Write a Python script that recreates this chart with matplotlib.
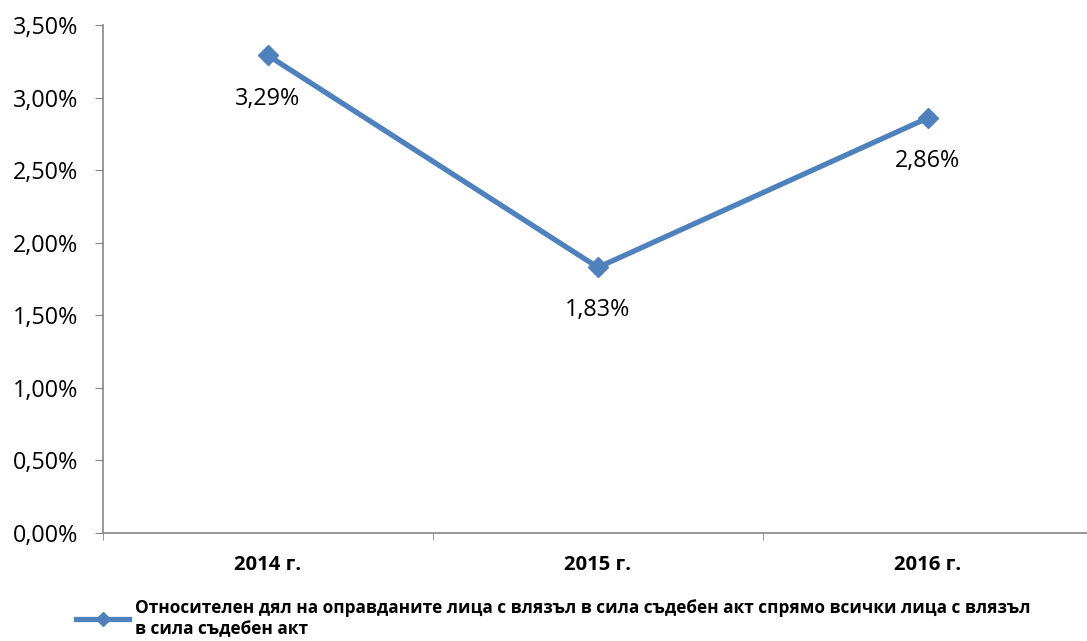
import matplotlib.pyplot as plt
from matplotlib.ticker import FuncFormatter
from matplotlib.lines import Line2D

plt.rcParams['font.family'] = ['Open Sans', 'DejaVu Sans']

years = ['2014 г.', '2015 г.', '2016 г.']
share = [3.29, 1.83, 2.86]
series_name = ('Относителен дял на оправданите лица с влязъл в сила съдебен акт спрямо всички лица с влязъл\n'
               'в сила съдебен акт')

blue = '#4F81BD'
grey = '#868686'

fig = plt.figure(figsize=(10.87, 6.41), dpi=100)
ax = fig.add_axes([103 / 1087, 1 - 533 / 641, (1087 - 103) / 1087, (533 - 25) / 641])

x = list(range(len(years)))
ax.plot(x, share, color=blue, lw=3.8, marker='D', markersize=10, zorder=3, clip_on=False)

for xi, v in zip(x, share):
    ax.annotate(f'{v:.2f}%'.replace('.', ','), (xi, v), xytext=(0, -31),
                textcoords='offset points', ha='center', va='center', fontsize=16.8)

ax.set_xlim(-0.5, 2.482)
ax.set_ylim(0, 3.5)
ax.set_yticks([0, 0.5, 1, 1.5, 2, 2.5, 3, 3.5])
ax.yaxis.set_major_formatter(FuncFormatter(lambda v, p: f'{v:.2f}%'.replace('.', ',')))
ax.set_xticks(x)
ax.set_xticklabels(years, fontweight='bold', fontsize=14.6)
ax.set_xticks([-0.5, 0.5, 1.5], minor=True)
ax.tick_params(axis='x', which='major', length=0, pad=16)
ax.tick_params(axis='x', which='minor', length=5, color=grey, direction='out')
ax.tick_params(axis='y', length=6, color=grey, labelsize=16.8, pad=12)

for side in ['top', 'right']:
    ax.spines[side].set_visible(False)
for side in ['left', 'bottom']:
    ax.spines[side].set_color(grey)
    ax.spines[side].set_linewidth(1.2)

handle = Line2D([], [], color=blue, lw=3.8, marker='D', markersize=7)
fig.legend([handle], [series_name], loc='upper left', bbox_to_anchor=(76 / 1087, 1 - 599 / 641),
           frameon=False, prop={'weight': 'bold', 'size': 12.4}, handlelength=3.1,
           handletextpad=0.3, borderaxespad=0, borderpad=0, labelspacing=0)

fig.savefig('out.png', dpi=100)
